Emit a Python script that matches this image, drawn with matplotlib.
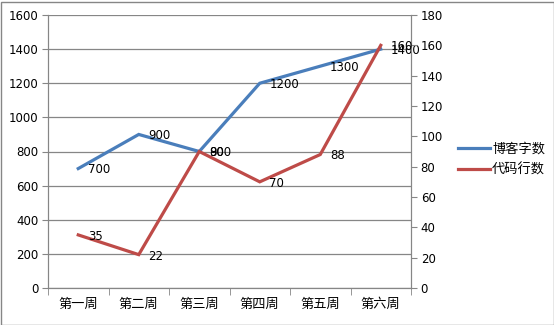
import matplotlib.pyplot as plt
import numpy as np

plt.rcParams['font.family'] = ['Noto Sans CJK SC', 'DejaVu Sans']

weeks = ["第一周", "第二周", "第三周", "第四周", "第五周", "第六周"]
blog_words = [700, 900, 800, 1200, 1300, 1400]
code_lines = [35, 22, 90, 70, 88, 160]

blue = "#4a7ebb"
red = "#be4b48"
grey = "#868686"

fig = plt.figure(figsize=(5.54, 3.25), dpi=100)
ax = fig.add_axes([48 / 554, 37 / 325, 363 / 554, 273 / 325])
ax2 = ax.twinx()

x = np.arange(len(weeks))
ax.plot(x, blog_words, color=blue, lw=2.3, solid_joinstyle='miter')
ax2.plot(x, code_lines, color=red, lw=2.3, solid_joinstyle='miter')

# data labels (overlaps at 第三周 / 第六周 are as in the original)
for xi, v in zip(x, blog_words):
    ax.annotate(str(v), (xi, v), xytext=(7, -1), textcoords='offset points',
                ha='left', va='center', fontsize=8.5, family='DejaVu Sans')
for xi, v in zip(x, code_lines):
    ax2.annotate(str(v), (xi, v), xytext=(7, -1), textcoords='offset points',
                 ha='left', va='center', fontsize=8.5, family='DejaVu Sans')

ax.set_xlim(-0.5, len(weeks) - 0.5)
ax.set_ylim(0, 1600)
ax.set_yticks(range(0, 1601, 200))
ax2.set_ylim(0, 180)
ax2.set_yticks(range(0, 181, 20))

ax.set_xticks(x)
ax.set_xticklabels(weeks, fontsize=9.5)
ax.set_xticks(np.arange(-0.5, len(weeks)), minor=True)
ax.tick_params(axis='x', which='major', length=0, pad=7)
ax.tick_params(axis='x', which='minor', length=5, color=grey)
ax.tick_params(axis='y', labelsize=8.5, length=4, color=grey, pad=3)
ax2.tick_params(axis='y', labelsize=8.5, length=4, color=grey, pad=3)
for lab in ax.get_yticklabels() + ax2.get_yticklabels():
    lab.set_family('DejaVu Sans')

ax.grid(axis='y', color=grey, lw=0.9)
ax.set_axisbelow(True)
for a in (ax, ax2):
    a.spines['top'].set_visible(False)
    a.spines['left'].set_color(grey)
    a.spines['right'].set_color(grey)
    a.spines['bottom'].set_color(grey)

handles = [plt.Line2D([], [], color=blue, lw=2.3), plt.Line2D([], [], color=red, lw=2.3)]
fig.legend(handles, ["博客字数", "代码行数"], loc='center left',
           bbox_to_anchor=(446 / 554, 1 - 160 / 325), frameon=False,
           fontsize=9.5, handlelength=2.4, handletextpad=0.2, labelspacing=0.6)

fig.patches.append(plt.Rectangle((0.5 / 554, 0.5 / 325), 553 / 554, 323 / 325,
                                 transform=fig.transFigure, fill=False,
                                 edgecolor=grey, lw=1))

fig.savefig("out.png", dpi=100)
